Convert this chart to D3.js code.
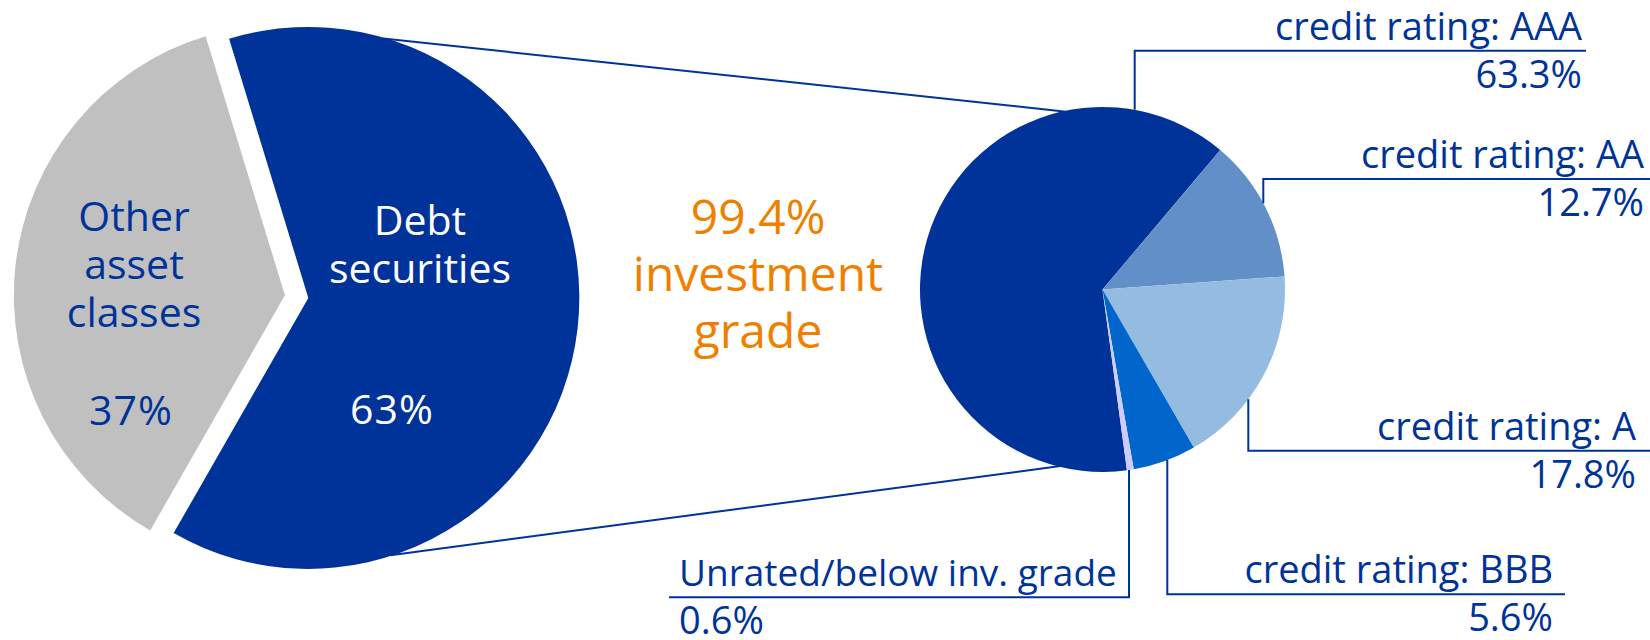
<!DOCTYPE html>
<html>
<head>
<meta charset="utf-8">
<script src="https://cdn.jsdelivr.net/npm/d3@7"></script>
<style>
  html, body { margin: 0; padding: 0; background: #ffffff; }
  svg { display: block; font-family: "Open Sans", "Noto Sans", sans-serif; }
</style>
</head>
<body>
<svg id="chart" width="1650" height="640"></svg>
<script>
// Portfolio split
const assetCategories = ["Debt securities", "Other asset classes"];
const assetValues = [63, 37];
const assetLabelLines = [["Debt", "securities"], ["Other", "asset", "classes"]];
const assetColors = ["#003399", "#c0c0c0"];
const assetTextColors = ["#ffffff", "#003399"];

// Credit quality of the debt securities
const ratingCategories = ["credit rating: AAA", "credit rating: AA", "credit rating: A", "credit rating: BBB", "Unrated/below inv. grade"];
const ratingValues = [63.3, 12.7, 17.8, 5.6, 0.6];
const ratingColors = ["#003399", "#628fc7", "#93bce0", "#0066cc", "#ccccff"];

// Headline in the middle
const highlightLines = ["99.4%", "investment", "grade"];

const deg = Math.PI / 180;
const blue = "#003399";
const svg = d3.select("#chart");

// ---------- left pie (exploded) ----------
const big = { cx: 296.6, cy: 296.6, r: 271, explode: 11.8 };
const bigPie = d3.pie().sort(null).value(d => d)
  .startAngle(-17 * deg).endAngle(343 * deg);
const bigArcs = bigPie(assetValues);
const bigArc = d3.arc().innerRadius(0).outerRadius(big.r);

function offsetOf(a, dist) {
  const m = (a.startAngle + a.endAngle) / 2;
  return [Math.sin(m) * dist, -Math.cos(m) * dist];
}
const bigCenters = bigArcs.map(a => {
  const [dx, dy] = offsetOf(a, big.explode);
  return [big.cx + dx, big.cy + dy];
});

// ---------- right pie ----------
const small = { cx: 1102.5, cy: 289.5, r: 182.5 };
const smallPie = d3.pie().sort(null).value(d => d)
  .startAngle(-187.7 * deg).endAngle(172.3 * deg);
const smallArcs = smallPie(ratingValues);
const smallArc = d3.arc().innerRadius(0).outerRadius(small.r);

// connector lines from the debt slice to the breakdown pie
function polar(c, r, angDeg) {
  const a = angDeg * deg;
  return [c[0] + Math.sin(a) * r, c[1] - Math.cos(a) * r];
}
const debtCenter = bigCenters[0];
const connectors = [
  [polar(debtCenter, big.r - 1, 16.1), polar([small.cx, small.cy], small.r - 1, -11.6)],
  [polar(debtCenter, big.r - 1, 162.3), polar([small.cx, small.cy], small.r - 1, 193.4)]
];
svg.append("g").selectAll("line").data(connectors).join("line")
  .attr("x1", d => d[0][0]).attr("y1", d => d[0][1])
  .attr("x2", d => d[1][0]).attr("y2", d => d[1][1])
  .attr("stroke", blue).attr("stroke-width", 2);

svg.append("g").selectAll("path").data(bigArcs).join("path")
  .attr("transform", (d, i) => `translate(${bigCenters[i][0]},${bigCenters[i][1]})`)
  .attr("d", bigArc)
  .attr("fill", (d, i) => assetColors[i]);

// slice labels
const bigLabelPos = [
  { x: 420, y: 234.5, px: 392, py: 424 },
  { x: 134, y: 231, px: 131, py: 424.5 }
];
assetLabelLines.forEach((lines, i) => {
  const p = bigLabelPos[i];
  lines.forEach((ln, k) => {
    svg.append("text")
      .attr("x", p.x).attr("y", p.y + k * 48)
      .attr("text-anchor", "middle")
      .attr("font-size", 41)
      .attr("fill", assetTextColors[i])
      .text(ln);
  });
  svg.append("text")
    .attr("x", p.px).attr("y", p.py)
    .attr("text-anchor", "middle")
    .attr("font-size", 41)
    .attr("letter-spacing", 1)
    .attr("fill", assetTextColors[i])
    .text(assetValues[i] + "%");
});

// headline
highlightLines.forEach((ln, k) => {
  svg.append("text")
    .attr("x", 758).attr("y", 234 + k * 57)
    .attr("text-anchor", "middle")
    .attr("font-size", 48)
    .attr("fill", "#f07f00")
    .text(ln);
});

// breakdown pie
svg.append("g")
  .attr("transform", `translate(${small.cx},${small.cy})`)
  .selectAll("path").data(smallArcs).join("path")
  .attr("d", smallArc)
  .attr("fill", (d, i) => ratingColors[i]);

// leader lines and labels
const leaders = [
  { vx: 1134.7, hy: 50.7, hx: 1586, anchor: "end", tx: 1582, size: 38 },
  { vx: 1263.3, hy: 179, hx: 1650, anchor: "end", tx: 1644, size: 38 },
  { vx: 1248.3, hy: 450.7, hx: 1650, anchor: "end", tx: 1636, size: 38 },
  { vx: 1167.3, hy: 594.3, hx: 1565, anchor: "end", tx: 1553, size: 38 },
  { vx: 1129, hy: 597.3, hx: 669, anchor: "start", tx: 679, size: 37 }
];
const lg = svg.append("g").attr("fill", "none").attr("stroke", blue).attr("stroke-width", 2);
leaders.forEach((L, i) => {
  const dx = L.vx - small.cx;
  const dy = Math.sqrt(small.r * small.r - dx * dx);
  const y0 = L.hy < small.cy ? small.cy - dy : small.cy + dy;
  lg.append("path").attr("d", d3.line()([[L.vx, y0], [L.vx, L.hy], [L.hx, L.hy]]));
  svg.append("text")
    .attr("x", L.tx).attr("y", L.hy - 11)
    .attr("text-anchor", L.anchor)
    .attr("font-size", L.size)
    .attr("fill", blue)
    .text(ratingCategories[i]);
  svg.append("text")
    .attr("x", L.tx).attr("y", L.hy + 37)
    .attr("text-anchor", L.anchor)
    .attr("font-size", 38)
    .attr("fill", blue)
    .text(ratingValues[i] + "%");
});
</script>
</body>
</html>
